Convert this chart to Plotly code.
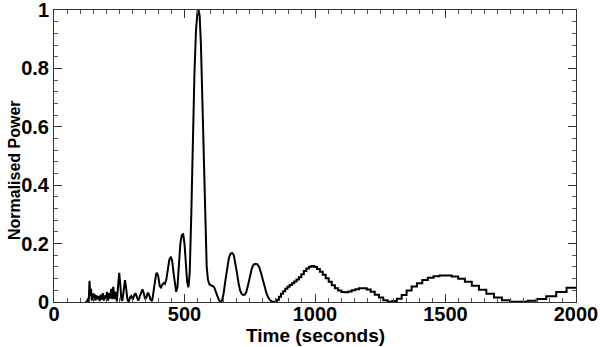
import plotly.graph_objects as go

# smooth part of the spectrum (short periods)
period_smooth = [
    120, 126, 130, 133, 136, 139, 142, 145, 148, 152, 155, 159, 163, 167, 171, 175,
    179, 183, 187, 191, 195, 199, 203, 207, 211, 215, 219, 223, 227, 232, 237, 241,
    246, 250, 254, 258, 262, 268, 272, 276, 281, 286, 291, 296, 302, 308, 313, 318,
    323, 329, 334, 339, 344, 349, 354, 359, 364, 370, 376, 381, 386, 391, 395, 400,
    405, 410, 415, 420, 425, 430, 436, 442, 448, 453, 458, 463, 468, 473, 478, 484,
    490, 495, 500, 505, 510, 515, 520, 526, 532, 538, 544, 550, 554, 558, 563, 569,
    575, 580, 585, 590, 596, 602, 608, 614, 620, 626, 632, 638, 644, 650, 656, 663,
    670, 676, 683, 689, 695, 701, 707, 713, 719, 725, 731, 737, 744, 751, 758, 765,
    772, 779, 786, 793, 800, 807, 814, 821, 828, 835, 842, 850,
]
power_smooth = [
    0.0, 0.0, 0.012, 0.0, 0.073, 0.02, 0.045, 0.005, 0.03, 0.008, 0.028, 0.005, 0.022, 0.01, 0.02, 0.003,
    0.025, 0.008, 0.03, 0.005, 0.022, 0.01, 0.035, 0.005, 0.03, 0.012, 0.045, 0.01, 0.052, 0.01, 0.035, 0.002,
    0.06, 0.10, 0.06, 0.01, 0.004, 0.04, 0.075, 0.05, 0.01, 0.0, 0.015, 0.02, 0.008, 0.025, 0.03, 0.015,
    0.005, 0.02, 0.035, 0.043, 0.03, 0.01, 0.015, 0.032, 0.025, 0.008, 0.003, 0.03, 0.07, 0.095, 0.10, 0.085,
    0.055, 0.05, 0.06, 0.065, 0.062, 0.075, 0.11, 0.145, 0.155, 0.14, 0.10, 0.055, 0.035, 0.05, 0.12, 0.20,
    0.23, 0.232, 0.20, 0.13, 0.07, 0.05, 0.10, 0.30, 0.55, 0.78, 0.93, 0.995, 1.0, 0.98, 0.88, 0.65,
    0.40, 0.22, 0.12, 0.075, 0.06, 0.057, 0.055, 0.05, 0.038, 0.02, 0.007, 0.0, 0.005, 0.03, 0.07, 0.115,
    0.15, 0.165, 0.168, 0.16, 0.135, 0.10, 0.065, 0.04, 0.028, 0.024, 0.025, 0.035, 0.06, 0.09, 0.115, 0.128,
    0.131, 0.129, 0.12, 0.10, 0.075, 0.05, 0.03, 0.015, 0.006, 0.002, 0.0, 0.002,
]

# binned part (long periods), drawn as steps
period_steps = [
    850.3, 858.0, 865.8, 873.7, 881.8, 890.1, 898.5, 907.0, 915.8, 924.6, 933.7, 943.0,
    952.4, 962.0, 971.8, 981.8, 992.1, 1002.5, 1013.2, 1024.1, 1035.2, 1046.6, 1058.2,
    1070.1, 1082.3, 1094.7, 1107.4, 1120.4, 1133.8, 1147.4, 1161.4, 1175.8, 1190.5,
    1205.5, 1221.0, 1236.9, 1253.1, 1269.8, 1287.0, 1304.6, 1322.8, 1341.4, 1360.5,
    1380.3, 1400.6, 1421.5, 1443.0, 1465.2, 1488.1, 1511.7, 1536.1, 1561.3, 1587.3,
    1614.2, 1642.0, 1670.8, 1700.7, 1731.6, 1763.7, 1797.0, 1831.5, 1867.4, 1904.8,
    1943.6, 1984.1, 2026.3,
]
power_steps = [
    0.002, 0.008, 0.018, 0.028, 0.037, 0.045, 0.052, 0.058, 0.064, 0.070, 0.077, 0.085,
    0.095, 0.106, 0.115, 0.121, 0.123, 0.120, 0.113, 0.104, 0.093, 0.081, 0.069,
    0.057, 0.047, 0.039, 0.034, 0.033, 0.036, 0.040, 0.044, 0.047, 0.047,
    0.043, 0.035, 0.025, 0.015, 0.006, 0.001, 0.003, 0.011, 0.024, 0.039,
    0.053, 0.064, 0.075, 0.083, 0.088, 0.091, 0.091, 0.087, 0.080, 0.069,
    0.056, 0.042, 0.028, 0.015, 0.006, 0.001, 0.001, 0.004, 0.010, 0.020,
    0.034, 0.049, 0.055,
]

FONT = 'Liberation Sans, Arial, sans-serif'
NEGRO = '#000000'

fig = go.Figure()
fig.add_trace(go.Scatter(
    x=period_smooth, y=power_smooth, mode='lines',
    line=dict(color=NEGRO, width=2), showlegend=False,
))
fig.add_trace(go.Scatter(
    x=period_steps, y=power_steps, mode='lines',
    line=dict(color=NEGRO, width=2, shape='hvh'), showlegend=False,
))

axis_common = dict(
    showgrid=False, zeroline=False, showline=True, linecolor='#333333', linewidth=1,
    mirror='allticks', ticks='inside', ticklen=8, tickcolor='#333333', automargin=False,
    ticklabeloverflow='allow',
    tickfont=dict(family=FONT, size=20, color=NEGRO, weight='bold'),
)
fig.update_xaxes(
    range=[0, 2000], tickvals=[0, 500, 1000, 1500, 2000], ticklabelstandoff=-6,
    minor=dict(dtick=50, ticks='inside', ticklen=4, tickcolor='#555555'),
    **axis_common,
)
fig.update_yaxes(
    range=[0, 1], tickvals=[0, 0.2, 0.4, 0.6, 0.8, 1], ticktext=['0', '0.2', '0.4', '0.6', '0.8', '1'],
    minor=dict(dtick=0.04, ticks='inside', ticklen=4, tickcolor='#555555'),
    **axis_common,
)
# axis titles as annotations for exact placement
fig.add_annotation(
    text='Time (seconds)', xref='paper', yref='paper', x=0.5, y=0, yanchor='middle',
    yshift=-33, showarrow=False, font=dict(family=FONT, size=19, color=NEGRO, weight='bold'),
)
fig.add_annotation(
    text='Normalised Power', xref='paper', yref='paper', x=0, y=0.5, xanchor='center', yanchor='middle',
    xshift=-40, yshift=-14, textangle=-90, showarrow=False,
    font=dict(family=FONT, size=16, color=NEGRO, weight='bold'),
)
fig.update_layout(
    width=600, height=347,
    plot_bgcolor='white', paper_bgcolor='white',
    margin=dict(l=54, r=24, t=10, b=45),
)
fig.write_html('out.html', config={'displayModeBar': False},
               post_script="document.body.style.margin='0';")
